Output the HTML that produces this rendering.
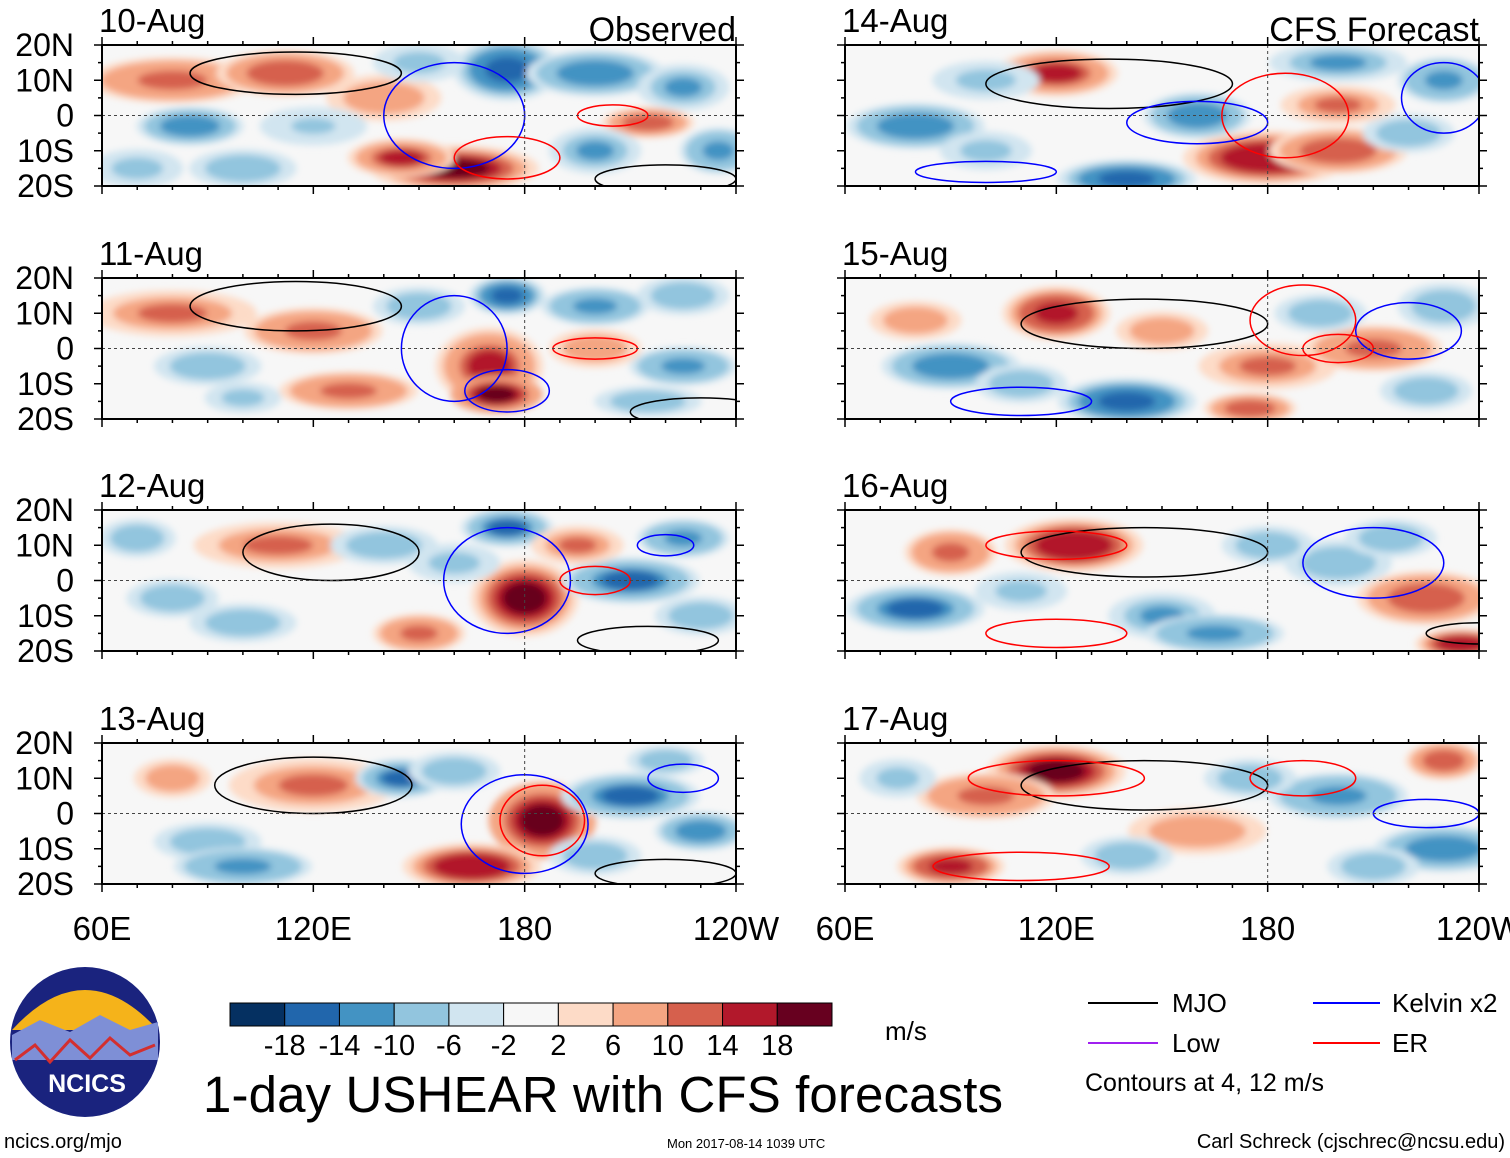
<!DOCTYPE html>
<html><head><meta charset="utf-8"><style>
body{margin:0;background:#fff;font-family:"Liberation Sans",sans-serif}
svg{display:block}
</style></head><body>
<svg id="s" width="1510" height="1158" xmlns="http://www.w3.org/2000/svg">
<defs>
<filter id="bl" x="-50%" y="-50%" width="200%" height="200%"><feGaussianBlur stdDeviation="3.5"/></filter>
</defs>
<g id="panels"></g>
<g id="bottom">
<g>
<circle cx="85" cy="1042" r="75" fill="#1a237e"/>
<path d="M12,1030 Q85,950 158,1030 Z" fill="#f5b31a"/>
<path d="M12,1035 L40,1020 L70,1032 L100,1015 L130,1030 L158,1022 L158,1060 L12,1060 Z" fill="#7e8fd6"/>
<path d="M15,1060 L35,1045 L50,1062 L70,1040 L90,1058 L110,1038 L130,1055 L155,1045" stroke="#d32f2f" stroke-width="3" fill="none"/>
<text x="87" y="1092" font-size="25" font-weight="bold" fill="#fff" text-anchor="middle">NCICS</text>
</g>
<g id="cbar"></g>
<text x="885" y="1040" font-size="26">m/s</text>
<text x="203" y="1112" font-size="51" textLength="800">1-day USHEAR with CFS forecasts</text>
<g font-size="26">
<line x1="1088" y1="1003" x2="1158" y2="1003" stroke="#000" stroke-width="2"/><text x="1172" y="1012">MJO</text>
<line x1="1313" y1="1003" x2="1380" y2="1003" stroke="#00f" stroke-width="2"/><text x="1392" y="1012">Kelvin x2</text>
<line x1="1088" y1="1043" x2="1158" y2="1043" stroke="#a020f0" stroke-width="2"/><text x="1172" y="1052">Low</text>
<line x1="1313" y1="1043" x2="1380" y2="1043" stroke="#f00" stroke-width="2"/><text x="1392" y="1052">ER</text>
<text x="1085" y="1091" font-size="25">Contours at 4, 12 m/s</text>
</g>
<text x="4" y="1148" font-size="20">ncics.org/mjo</text>
<text x="667" y="1148" font-size="13">Mon 2017-08-14 1039 UTC</text>
<text x="1505" y="1148" font-size="20" text-anchor="end">Carl Schreck (cjschrec@ncsu.edu)</text>
</g>
</svg>
<script>
const NS="http://www.w3.org/2000/svg";
const dates=["10-Aug","11-Aug","12-Aug","13-Aug","14-Aug","15-Aug","16-Aug","17-Aug"];
const levels=[-18,-14,-10,-6,-2,2,6,10,14,18];
const colors=["#053061","#2166ac","#4393c3","#92c5de","#d1e5f0","#f7f7f7","#fddbc7","#f4a582","#d6604d","#b2182b","#67001f"];
const latTicks=["20N","10N","0","10S","20S"];
const lonTicks=["60E","120E","180","120W"];
// blobs: [lon, lat, rxDeg, ryDeg, value]
const blobs=[
[[80,10,22,6,9],[112,12,18,6,10],[140,5,15,6,6],[85,-3,14,5,-11],[160,-15,22,6,16],[145,-12,14,5,12],[175,13,14,8,-14],[200,12,18,6,-10],[215,-2,12,4,10],[225,8,12,6,-8],[100,-15,14,5,-7],[200,-10,12,6,-8],[235,-10,10,6,-9],[120,-3,14,5,-4],[150,15,12,5,-5],[70,-15,12,5,-5]],
[[80,10,22,6,8],[120,5,18,6,9],[170,-5,14,10,12],[172,-13,12,5,18],[175,15,10,5,-14],[200,12,14,5,-9],[225,-5,14,5,-9],[90,-5,14,5,-7],[130,-12,18,5,9],[200,0,12,5,7],[150,12,12,5,-6],[225,15,12,5,-6],[100,-14,10,4,-5],[215,-15,14,4,-6]],
[[110,10,22,6,8],[180,-5,14,10,16],[175,15,12,5,-12],[210,0,18,6,-12],[80,-5,12,5,-7],[140,10,14,5,-7],[150,-15,12,5,9],[225,12,12,5,-9],[195,10,12,5,8],[100,-12,14,5,-6],[230,-10,12,5,-7],[160,5,12,5,-5],[70,12,10,5,-6]],
[[120,8,22,7,8],[185,-2,14,10,18],[165,-15,18,6,15],[145,10,12,5,-12],[210,5,18,6,-12],[230,-5,12,5,-10],[90,-8,14,5,-7],[100,-15,18,5,-9],[160,12,12,5,-7],[200,-12,12,5,-6],[220,15,10,4,-6],[80,10,10,5,6]],
[[120,12,16,6,12],[180,-12,22,7,15],[200,-10,18,6,11],[80,-3,18,6,-11],[160,0,14,6,-11],[140,-18,18,5,-13],[230,10,12,6,-9],[200,15,18,5,-8],[200,3,15,5,8],[100,10,14,5,-5],[220,-5,12,5,-6],[100,-10,12,5,-5]],
[[120,10,14,7,14],[180,-5,18,6,8],[90,-5,18,6,-10],[140,-15,18,6,-13],[210,0,18,6,9],[175,-17,12,4,11],[230,12,12,6,-7],[195,10,12,5,-6],[150,5,12,5,7],[80,8,12,5,6],[110,-10,12,5,-6],[225,-12,12,5,-7]],
[[125,10,18,7,15],[90,8,12,6,9],[80,-8,18,6,-12],[150,-10,14,6,-8],[225,-5,18,7,10],[235,-18,12,4,15],[200,5,14,6,-7],[165,-15,18,5,-9],[180,10,12,5,-6],[110,-3,12,5,-5],[215,12,12,5,-6]],
[[120,12,18,7,17],[100,5,18,6,9],[200,5,18,6,-9],[230,-10,18,6,-10],[90,-15,14,5,13],[230,15,10,5,11],[160,-5,18,6,7],[175,10,12,5,-7],[140,-12,12,5,-6],[210,-15,12,5,-6],[75,10,10,5,-5]]];
// contours: [lon, lat, rxDeg, ryDeg, type] type 0=MJO,1=Kelvin,2=ER
const contours=[
[[115,12,30,6,0],[160,0,20,15,1],[205,0,10,3,2],[175,-12,15,6,2],[220,-18,20,4,0]],
[[115,12,30,7,0],[160,0,15,15,1],[200,0,12,3,2],[175,-12,12,6,1],[230,-18,20,4,0]],
[[125,8,25,8,0],[175,0,18,15,1],[200,0,10,4,2],[220,10,8,3,1],[215,-17,20,4,0]],
[[120,8,28,8,0],[180,-3,18,14,1],[185,-2,12,10,2],[225,10,10,4,1],[220,-17,20,4,0]],
[[135,9,35,7,0],[185,0,18,12,2],[230,5,12,10,1],[160,-2,20,6,1],[100,-16,20,3,1]],
[[145,7,35,7,0],[190,8,15,10,2],[220,5,15,8,1],[200,0,10,4,2],[110,-15,20,4,1]],
[[145,8,35,7,0],[120,10,20,4,2],[210,5,20,10,1],[120,-15,20,4,2],[240,-15,15,3,0]],
[[145,8,35,7,0],[120,10,25,5,2],[225,0,15,4,1],[190,10,15,5,2],[110,-15,25,4,2]]];
const lineCol=["#000","#00f","#f00"];
function col(v){let i=0;while(i<levels.length&&v>levels[i])i++;return colors[i];}
function mk(t,a,p){const e=document.createElementNS(NS,t);for(const k in a)e.setAttribute(k,a[k]);p.appendChild(e);return e;}
const root=document.getElementById("panels");
const PW=634,PH=141;
for(let p=0;p<8;p++){
 const x0=p<4?102:845, y0=[45,278,510,743][p%4];
 const X=l=>x0+(l-60)/180*PW, Y=la=>y0+(20-la)/40*PH;
 const g=mk("g",{},root);
 
 
 const cid="c"+p;
 const cp=mk("clipPath",{id:cid},g);mk("rect",{x:x0,y:y0,width:PW,height:PH},cp);
 const inner=mk("g",{"clip-path":"url(#"+cid+")"},g);
 mk("rect",{x:x0,y:y0,width:PW,height:PH,fill:"#f7f7f7"},inner);
 const bg=mk("g",{filter:"url(#bl)"},inner);
 for(const b of blobs[p]){
  const v=b[4],s=Math.sign(v);
  for(let k=0.2;k<=1.0001;k+=0.2){
   const f=1.25-k*0.8;
   const c=mk("ellipse",{cx:X(b[0]),cy:Y(b[1]),rx:b[2]/180*PW*f,ry:b[3]/40*PH*f,fill:col(v*k+s*2.5)},bg);
   
   
  }
 }
 for(const c of contours[p]){
  const e=mk("ellipse",{cx:X(c[0]),cy:Y(c[1]),rx:c[2]/180*PW,ry:c[3]/40*PH,fill:"none",stroke:lineCol[c[4]],"stroke-width":1.5},inner);
  
  
 }
 mk("line",{x1:x0,y1:Y(0),x2:x0+PW,y2:Y(0),stroke:"#444","stroke-dasharray":"3,3"},inner);
 mk("line",{x1:X(180),y1:y0,x2:X(180),y2:y0+PH,stroke:"#444","stroke-dasharray":"3,3"},inner);
 mk("rect",{x:x0,y:y0,width:PW,height:PH,fill:"none",stroke:"#000","stroke-width":2},g);
 for(let l=60;l<=240;l+=10){const len=l%60==0?8:4;
  mk("line",{x1:X(l),y1:y0,x2:X(l),y2:y0-len,stroke:"#000","stroke-width":1.5},g);
  mk("line",{x1:X(l),y1:y0+PH,x2:X(l),y2:y0+PH+len,stroke:"#000","stroke-width":1.5},g);}
 for(let la=-20;la<=20;la+=5){const len=la%10==0?8:4;
  mk("line",{x1:x0,y1:Y(la),x2:x0-len,y2:Y(la),stroke:"#000","stroke-width":1.5},g);
  mk("line",{x1:x0+PW,y1:Y(la),x2:x0+PW+len,y2:Y(la),stroke:"#000","stroke-width":1.5},g);}
 const t=mk("text",{x:x0-3,y:y0-13,"font-size":33},g);t.textContent=dates[p];
 
 
 if(p==0||p==4){const h=mk("text",{x:x0+PW,y:y0-4,"font-size":34,"text-anchor":"end"},g);h.textContent=p==0?"Observed":"CFS Forecast";
  
  }
 if(p<4){latTicks.forEach((s,i)=>{const tt=mk("text",{x:74,y:Y(20-i*10)+11,"font-size":32,"text-anchor":"end"},g);tt.textContent=s;
  
  });}
 if(p%4==3){lonTicks.forEach((s,i)=>{const tt=mk("text",{x:X(60+i*60),y:940,"font-size":33,"text-anchor":"middle"},g);tt.textContent=s;
  
  });}
}
const cb=document.getElementById("cbar");
const bw=(832-230)/colors.length;
colors.forEach((c,i)=>{const r=mk("rect",{x:230+i*bw,y:1003,width:bw,height:23,fill:c,stroke:"#000","stroke-width":1},cb);
 
 });
levels.forEach((v,i)=>{const t=mk("text",{x:230+(i+1)*bw,y:1055,"font-size":29,"text-anchor":"middle"},cb);t.textContent=v;
 
 });
</script>
</body></html>
